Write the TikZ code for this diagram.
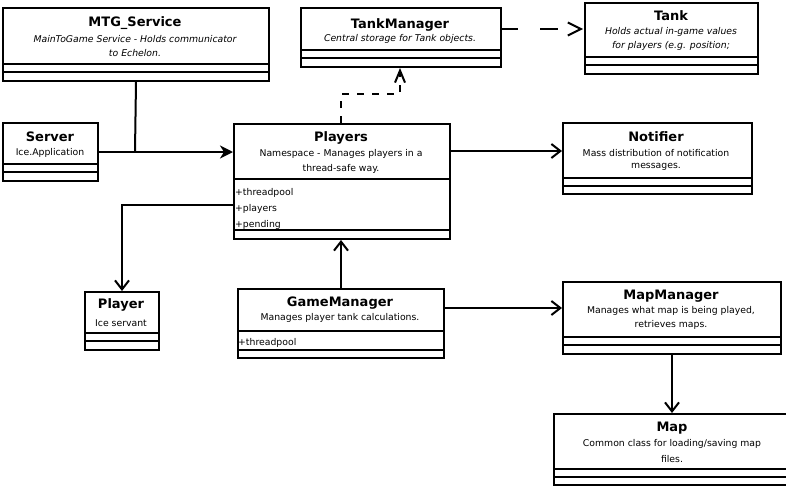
\documentclass[tikz,border=0pt]{standalone}
\usepackage{fontspec}
\setmainfont{DejaVu Sans}
\usetikzlibrary{arrows.meta}
\begin{document}
\begin{tikzpicture}[x=1pt,y=-1pt,
  cls/.style={draw, line width=2pt, rectangle, inner sep=0pt, anchor=north west},
  ttl/.style={font=\bfseries\fontsize{13}{15}\selectfont, inner sep=0pt},
  txt/.style={font=\fontsize{9.3}{11}\selectfont, inner sep=0pt},
  itx/.style={font=\itshape\fontsize{9.3}{11}\selectfont, inner sep=0pt},
  attr/.style={txt, anchor=west},
  sepline/.style={line width=2pt},
  conn/.style={line width=2pt},
  openarr/.style={conn, -{Straight Barb[length=9pt,width=14pt]}},
  fillarr/.style={conn, -{Stealth[length=13pt,width=13pt,inset=4pt]}},
  dasharr/.style={conn, dash pattern=on 18pt off 22pt, -{Straight Barb[length=13pt,width=13pt]}},
  dashup/.style={conn, dash pattern=on 7pt off 8pt, -{Straight Barb[length=12pt,width=10pt]}}
]
\useasboundingbox (0,0) rectangle (786,485);
\fill[white] (0,0) rectangle (786,485);

% MTG_Service
\node[cls, minimum width=266pt, minimum height=73pt] (mtg) at (2,7) {};
\draw[sepline] (2,64) -- (268,64);
\draw[sepline] (2,72) -- (268,72);
\node[ttl] (mtgT) at (135,23) {MTG\_Service};
\node[itx] (mtgA) at (135,39) {MainToGame Service - Holds communicator};
\node[itx] (mtgB) at (135,53) {to Echelon.};

% Server
\node[cls, minimum width=95pt, minimum height=58pt] (server) at (2,122) {};
\draw[sepline] (2,164) -- (97,164);
\draw[sepline] (2,172) -- (97,172);
\node[ttl] (serverT) at (50,137) {Server};
\node[txt] (serverA) at (50,153) {Ice.Application};

% TankManager
\node[cls, minimum width=200pt, minimum height=59pt] (tm) at (300,7) {};
\draw[sepline] (300,50) -- (500,50);
\draw[sepline] (300,58) -- (500,58);
\node[ttl] (tmT) at (400,25) {TankManager};
\node[itx] (tmA) at (400,39) {Central storage for Tank objects.};

% Tank
\node[cls, minimum width=173pt, minimum height=71pt] (tank) at (584,2) {};
\draw[sepline] (584,57) -- (757,57);
\draw[sepline] (584,65) -- (757,65);
\node[ttl] (tankT) at (671,16) {Tank};
\node[itx] (tankA) at (671,32) {Holds actual in-game values};
\node[itx] (tankB) at (671,46) {for players (e.g. position;};

% Players
\node[cls, minimum width=216pt, minimum height=115pt] (players) at (233,123) {};
\draw[sepline] (233,179) -- (449,179);
\draw[sepline] (233,230) -- (449,230);
\node[ttl] (playersT) at (341,138) {Players};
\node[txt] (playersA) at (341,154) {Namespace - Manages players in a};
\node[txt] (playersB) at (341,169) {thread-safe way.};
\node[attr] (playersC) at (235,193) {+threadpool};
\node[attr] (playersD) at (235,209) {+players};
\node[attr] (playersE) at (235,225) {+pending};

% Notifier
\node[cls, minimum width=189pt, minimum height=71pt] (notifier) at (562,122) {};
\draw[sepline] (562,178) -- (751,178);
\draw[sepline] (562,186) -- (751,186);
\node[ttl] (notifierT) at (656,137) {Notifier};
\node[txt] (notifierA) at (656,153) {Mass distribution of notification};
\node[txt] (notifierB) at (656,167) {messages.};

% Player
\node[cls, minimum width=74pt, minimum height=58pt] (player) at (84,291) {};
\draw[sepline] (84,333) -- (158,333);
\draw[sepline] (84,341) -- (158,341);
\node[ttl] (playerT) at (121,305) {Player};
\node[txt] (playerA) at (121,323) {Ice servant};

% GameManager
\node[cls, minimum width=206pt, minimum height=69pt] (gm) at (237,288) {};
\draw[sepline] (237,331) -- (443,331);
\draw[sepline] (237,350) -- (443,350);
\node[ttl] (gmT) at (340,303) {GameManager};
\node[txt] (gmA) at (340,318) {Manages player tank calculations.};
\node[attr] (gmB) at (238,343) {+threadpool};

% MapManager
\node[cls, minimum width=218pt, minimum height=72pt] (mapm) at (562,281) {};
\draw[sepline] (562,337) -- (780,337);
\draw[sepline] (562,345) -- (780,345);
\node[ttl] (mapmT) at (671,296) {MapManager};
\node[txt] (mapmA) at (671,311) {Manages what map is being played,};
\node[txt] (mapmB) at (671,325) {retrieves maps.};

% Map
\node[cls, minimum width=238pt, minimum height=71pt] (map) at (553,413) {};
\draw[sepline] (553,469) -- (791,469);
\draw[sepline] (553,477) -- (791,477);
\node[ttl] (mapT) at (672,428) {Map};
\node[txt] (mapA) at (672,444) {Common class for loading/saving map};
\node[txt] (mapB) at (672,459) {files.};

% connectors
\coordinate (j1) at (135,151);
\draw[conn] (mtg.south) -- (j1);
\draw[fillarr] (server.east) -- (server.east -| players.west);
\coordinate (pe) at (449,151);
\draw[openarr] (pe) -- (pe -| notifier.west);
\coordinate (pw) at (233,205);
\draw[openarr] (pw) -| (player.north);
\draw[openarr] (gm.north) -- (gm.north |- players.south);
\coordinate (ge) at (443,308);
\draw[openarr] (ge) -- (ge -| mapm.west);
\draw[openarr] (mapm.south) -- (mapm.south |- map.north);
\coordinate (te) at (500,29);
\draw[dasharr] (te) -- ([xshift=-1pt]te -| tank.west);
\coordinate (pt) at (341,123);
\coordinate (tb) at (400,68);
\draw[dashup] (pt) |- (400,94) -- (tb);
\end{tikzpicture}
\end{document}
